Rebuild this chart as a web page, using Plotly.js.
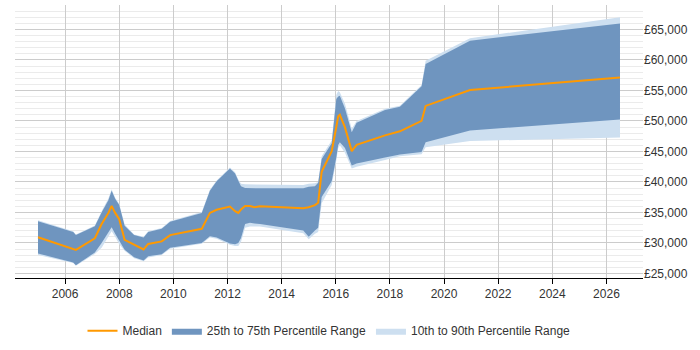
<!DOCTYPE html>
<html>
<head>
<meta charset="utf-8">
<script src="https://cdn.plot.ly/plotly-3.0.1.min.js"></script>
<style>html,body{margin:0;padding:0;background:#fff;}#chart{width:700px;height:350px;}</style>
</head>
<body>
<div id="chart"></div>
<script>
const years = [2005.0, 2006.3, 2006.4, 2007.1, 2007.35, 2007.6, 2007.72, 2007.85, 2008.0, 2008.2,
  2008.55, 2008.9, 2009.07, 2009.57, 2009.88, 2011.05, 2011.35, 2011.6, 2012.09, 2012.28,
  2012.4, 2012.5, 2012.65, 2012.83, 2013.0, 2013.2, 2014.8, 2015.0, 2015.23, 2015.35,
  2015.48, 2015.85, 2016.02, 2016.09, 2016.15, 2016.34, 2016.59, 2016.77, 2017.82, 2018.37,
  2019.17, 2019.32, 2020.96, 2026.5];
const p10 = [28000, 26700, 26250, 28200, 29200, 31000, 31900, 31000, 29800, 28700,
  27500, 27000, 27600, 28000, 29050, 29850, 30900, 30700, 29700, 29500,
  29500, 30200, 32500, 32700, 32700, 32700, 31600, 30600, 31500, 31800,
  36500, 39500, 43500, 45500, 46000, 44800, 42180, 42500, 43600, 44200,
  44520, 45700, 46700, 47270];
const p25 = [28270, 26800, 26350, 28430, 29980, 31800, 32580, 31500, 30300, 28900,
  27650, 27130, 27800, 28160, 29200, 29980, 31100, 30900, 29900, 29800,
  29980, 30800, 33100, 33300, 33200, 33100, 32050, 31030, 32050, 32500,
  37510, 40110, 44000, 46070, 46500, 45560, 42710, 43000, 44000, 44500,
  44890, 46500, 48420, 50230];
const p50 = [30920, 29100, 28850, 30760, 33100, 34920, 36060, 34920, 33880, 30500,
  29720, 28940, 29830, 30250, 31280, 32320, 34920, 35440, 35950, 35200,
  34920, 35500, 36060, 36060, 35850, 36000, 35700, 35850, 36200, 36580,
  41670, 45050, 49000, 50750, 51010, 48940, 45050, 46070, 47630, 48300,
  50000, 52460, 55060, 57130];
const p75 = [33570, 31800, 31300, 32740, 35000, 37000, 38550, 37260, 36200, 32830,
  31280, 30870, 31800, 32320, 33460, 34920, 38550, 40110, 42180, 41400,
  40200, 39300, 39000, 38950, 38950, 38950, 38950, 39200, 39300, 39850,
  43740, 46340, 53610, 54000, 54130, 52050, 48160, 49710, 51790, 52310,
  55690, 59310, 63150, 65970];
const p90 = [33700, 31900, 31400, 32850, 35200, 37300, 38800, 37400, 36400, 33000,
  31400, 31000, 31900, 32450, 33600, 35050, 38700, 40250, 42350, 41600,
  40400, 39700, 39600, 39600, 39600, 39600, 39500, 39700, 39800, 40000,
  44200, 46800, 54300, 54910, 54700, 52800, 48700, 50000, 52000, 52500,
  55900, 59880, 63550, 67010];
const tickYears = [2006, 2008, 2010, 2012, 2014, 2016, 2018, 2020, 2022, 2024, 2026];
const yTicks = [25000, 30000, 35000, 40000, 45000, 50000, 55000, 60000, 65000];
const yTickLabels = ['£25,000', '£30,000', '£35,000', '£40,000', '£45,000', '£50,000', '£55,000', '£60,000', '£65,000'];

const light = '#cddff0';
const mid = '#6f95bf';
const traces = [
  {x: years, y: p10, type: 'scatter', mode: 'lines', line: {width: 0, color: light}, showlegend: false, hoverinfo: 'skip'},
  {x: years, y: p90, type: 'scatter', mode: 'lines', fill: 'tonexty', fillcolor: light, line: {width: 0, color: light},
   name: '10th to 90th Percentile Range', legendrank: 3},
  {x: years, y: p25, type: 'scatter', mode: 'lines', line: {width: 0, color: mid}, showlegend: false, hoverinfo: 'skip'},
  {x: years, y: p75, type: 'scatter', mode: 'lines', fill: 'tonexty', fillcolor: mid, line: {width: 0, color: mid},
   name: '25th to 75th Percentile Range', legendrank: 2},
  {x: years, y: p50, type: 'scatter', mode: 'lines', line: {width: 2, color: '#ff9900'}, name: 'Median', legendrank: 1}
];

const layout = {
  width: 700, height: 350,
  margin: {l: 15, r: 57, t: 5, b: 58},
  paper_bgcolor: '#fff', plot_bgcolor: '#fff',
  font: {family: 'Liberation Sans, Arial, sans-serif', size: 12, color: '#333'},
  showlegend: true,
  legend: {orientation: 'h', x: 0.5, xanchor: 'center', y: -0.14, yanchor: 'top', font: {size: 12, color: '#333'}, traceorder: 'normal', itemwidth: 30},
  xaxis: {
    range: [2004.15, 2027.35], tickvals: tickYears, ticktext: tickYears.map(String),
    showgrid: true, gridcolor: '#cccccc', gridwidth: 1,
    showline: true, linecolor: '#000', linewidth: 1,
    ticks: 'outside', ticklen: 5, tickcolor: '#000',
    zeroline: false, tickfont: {size: 12, color: '#333'}
  },
  yaxis: {
    side: 'right', range: [24250, 69000], tickmode: 'array', tickvals: yTicks, ticktext: yTickLabels,
    showgrid: true, gridcolor: '#cccccc', gridwidth: 1,
    minor: {dtick: 1000, tick0: 0, showgrid: true, gridcolor: '#ebebeb', gridwidth: 1},
    zeroline: false, showline: false, ticks: '', tickfont: {size: 12, color: '#333'}
  }
};
Plotly.newPlot('chart', traces, layout, {staticPlot: true, displayModeBar: false});
</script>
</body>
</html>
